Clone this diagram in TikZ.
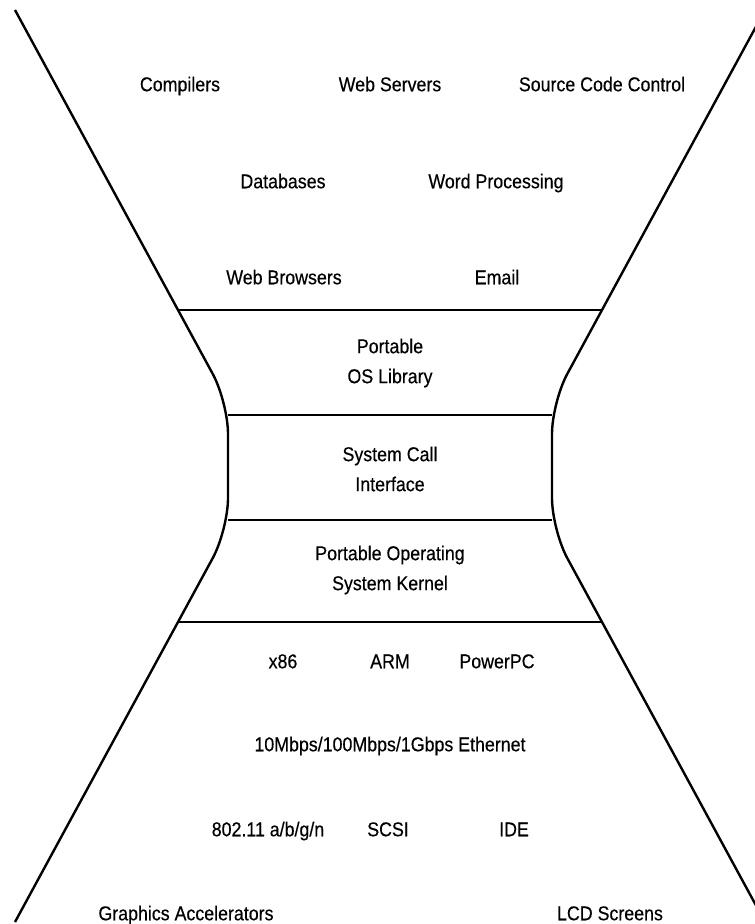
\documentclass[tikz,border=0pt]{standalone}
\usepackage{fontspec}
\setmainfont[FakeStretch=0.89, FakeBold=0.4]{Liberation Sans}

\begin{document}
\begin{tikzpicture}[x=1pt, y=-1pt,
    lbl/.style={font=\fontsize{20}{30}\selectfont, align=center, inner sep=0pt},
    item/.style={lbl, text height=14.5pt, text depth=4pt},
    funnel/.style={line width=2.4pt, rounded corners=32pt},
    layer/.style={line width=1.4pt}]
    \useasboundingbox (0, 0) rectangle (755, 924);
    \clip (0, 0) rectangle (755, 924);

    % funnel outline
    \draw[funnel] (15, 10) -- (228, 402) -- (228, 530) -- (15, 922);
    \draw[funnel] (765, 10) -- (552, 402) -- (552, 530) -- (765, 922);

    % layer borders
    \coordinate (tl) at (178, 310);  \coordinate (tr) at (602, 310);
    \coordinate (ml) at (228, 415);  \coordinate (mr) at (552, 415);
    \coordinate (nl) at (228, 520);  \coordinate (nr) at (552, 520);
    \coordinate (bl) at (178, 622);  \coordinate (br) at (602, 622);
    \draw[layer] (tl) -- (tr);
    \draw[layer] (ml) -- (mr);
    \draw[layer] (nl) -- (nr);
    \draw[layer] (bl) -- (br);

    % applications
    \node[item] (comp) at (180, 86) {Compilers};
    \node[item] (webs) at (390, 86) {Web Servers};
    \node[item] (scc) at (602, 86) {Source Code Control};
    \node[item] (db) at (283, 183) {Databases};
    \node[item] (wp) at (496, 183) {Word Processing};
    \node[item] (webb) at (284, 279) {Web Browsers};
    \node[item] (mail) at (497, 279) {Email};

    % layers
    \node[lbl] (lib) at (390, 363) {Portable\\OS Library};
    \node[lbl] (sci) at (390, 469) {System Call\\Interface};
    \node[lbl] (kern) at (390, 570) {Portable Operating\\System Kernel};

    % hardware
    \node[item] (x86) at (283, 663) {x86};
    \node[item] (arm) at (390, 663) {ARM};
    \node[item] (ppc) at (497, 663) {PowerPC};
    \node[item] (eth) at (390, 746) {10Mbps/100Mbps/1Gbps Ethernet};
    \node[item] (wifi) at (268, 831) {802.11 a/b/g/n};
    \node[item] (scsi) at (388, 831) {SCSI};
    \node[item] (ide) at (514, 831) {IDE};
    \node[item] (gfx) at (186, 915) {Graphics Accelerators};
    \node[item] (lcd) at (610, 915) {LCD Screens};
\end{tikzpicture}
\end{document}
